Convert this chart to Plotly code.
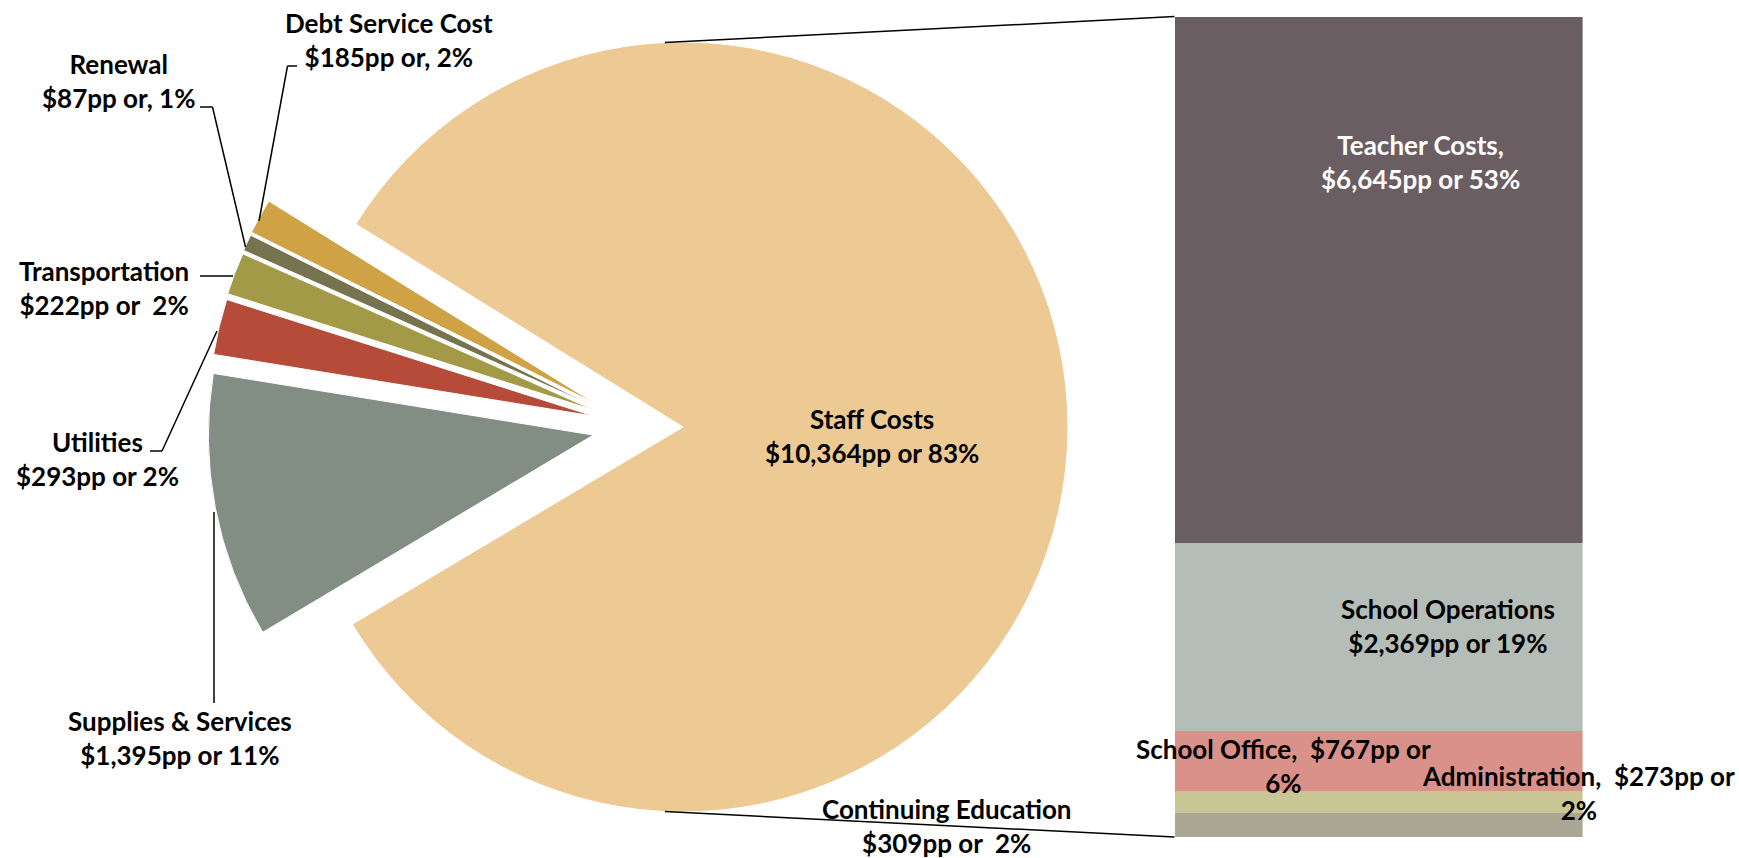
import math
import plotly.graph_objects as go

W, H = 1739, 858

# ---------------- data ----------------
pie_labels = ["Staff Costs", "Supplies & Services", "Utilities",
              "Transportation", "Renewal", "Debt Service Cost"]
pie_values = [10364, 1395, 293, 222, 87, 185]
pie_text = ["Staff Costs<br>$10,364pp or 83%",
            "Supplies & Services<br>$1,395pp or 11%",
            "Utilities<br>$293pp or 2%",
            "Transportation<br>$222pp or  2%",
            "Renewal<br>$87pp or, 1%",
            "Debt Service Cost<br>$185pp or, 2%"]

# breakdown of Staff Costs (bottom to top of the stacked bar)
bar_labels = ["Continuing Education", "Administration", "School Office",
              "School Operations", "Teacher Costs"]
bar_values = [309, 273, 767, 2369, 6645]
bar_text = ["Continuing Education<br>$309pp or  2%",
            "Administration,  $273pp or<br>2%",
            "School Office,  $767pp or<br>6%",
            "School Operations<br>$2,369pp or 19%",
            "Teacher Costs,<br>$6,645pp or 53%"]

# ---------------- style / layout ----------------
pie_colors = ["#EDC993", "#828E84", "#B54B38", "#A29A47", "#76744F", "#CFA245"]
bar_colors = ["#AAA894", "#CAC594", "#DA918A", "#B4BDB8", "#6A5E63"]
bar_font_colors = ["black", "black", "black", "black", "white"]

PIE_CX, PIE_CY, PIE_R = 683, 427, 385     # pixels
ROTATION = -58.2                           # start of first slice, deg clockwise from 12 o'clock
EXPLODE = 90                               # pixels the small slices are pulled out
BAR_X0, BAR_X1, BAR_TOP, BAR_BOT = 1174.5, 1582.6, 16.6, 837

FONT = dict(family="Lato, Open Sans, sans-serif", size=26, color="black", weight=700)

pie_label_pos = [(872, 436), (180, 738), (97, 459), (104, 288), (118, 81), (389, 40)]
bar_label_pos = [(947, 826), (1578, 793), (1283, 766), (1448, 626), (1420, 162)]

leaders = [
    [(214, 703), (214, 512)],                    # Supplies
    [(150, 451), (162, 451), (217, 331)],        # Utilities
    [(200, 276), (233, 276)],                    # Transportation
    [(200, 107), (212.5, 107), (245.5, 247)],    # Renewal
    [(297, 66), (287.5, 66), (259, 221)],        # Debt
]


def px(x):
    return x / W


def py(y):
    return 1 - y / H


def clip(v):
    return min(1.0, max(0.0, v))


fig = go.Figure()

# ---- pie: one trace per visible slice so each can be exploded independently ----
total = sum(pie_values)
start = 90 - ROTATION
mids = []
acc = 0
for v in pie_values:
    a0 = start - acc * 360 / total
    a1 = start - (acc + v) * 360 / total
    mids.append((a0 + a1) / 2)
    acc += v
small_total = sum(pie_values[1:])
group_dir = start - (pie_values[0] + small_total / 2) * 360 / total + 360

for i in range(len(pie_values)):
    if i == 0:
        cx, cy = PIE_CX, PIE_CY
    else:
        m = mids[i] % 360
        d = math.radians((m + group_dir) / 2)
        cx = PIE_CX + EXPLODE * math.cos(d)
        cy = PIE_CY - EXPLODE * math.sin(d)
    colors = [pie_colors[j] if j == i else "rgba(0,0,0,0)" for j in range(len(pie_values))]
    widths = [1 if j == i else 0 for j in range(len(pie_values))]
    fig.add_trace(go.Pie(
        labels=pie_labels, values=pie_values, sort=False,
        direction="clockwise", rotation=ROTATION,
        marker=dict(colors=colors, line=dict(color="white", width=widths)),
        textinfo="none", hoverinfo="label+value", showlegend=False,
        domain=dict(x=[clip(px(cx - PIE_R)), clip(px(cx + PIE_R))],
                    y=[clip(py(cy + PIE_R)), clip(py(cy - PIE_R))]),
    ))

# ---- stacked bar ----
for i in range(len(bar_values)):
    fig.add_trace(go.Bar(
        x=[0], y=[bar_values[i]], width=1, name=bar_labels[i],
        marker=dict(color=bar_colors[i], line=dict(width=0)),
        showlegend=False, hoverinfo="name+y",
    ))

# ---- labels ----
annotations = []
for t, (x, y) in zip(pie_text, pie_label_pos):
    annotations.append(dict(text=t, x=px(x), y=py(y), xref="paper", yref="paper",
                            showarrow=False, xanchor="center", yanchor="middle",
                            align="center", font=FONT))
for t, (x, y), c in zip(bar_text, bar_label_pos, bar_font_colors):
    f = dict(FONT)
    f["color"] = c
    annotations.append(dict(text=t, x=px(x), y=py(y), xref="paper", yref="paper",
                            showarrow=False, xanchor="center", yanchor="middle",
                            align="center", font=f))

# ---- leader lines and connector lines ----
shapes = []
line_style = dict(color="black", width=1.5)
for pts in leaders:
    for (x0, y0), (x1, y1) in zip(pts[:-1], pts[1:]):
        shapes.append(dict(type="line", xref="paper", yref="paper",
                           x0=px(x0), y0=py(y0), x1=px(x1), y1=py(y1), line=line_style))

ang = math.radians(92.7)
top_pt = (PIE_CX + PIE_R * math.cos(ang), PIE_CY - PIE_R * math.sin(ang))
bot_pt = (PIE_CX + PIE_R * math.cos(ang), PIE_CY + PIE_R * math.sin(ang))
shapes.append(dict(type="line", xref="paper", yref="paper",
                   x0=px(top_pt[0]), y0=py(top_pt[1]), x1=px(BAR_X0), y1=py(BAR_TOP),
                   line=line_style))
shapes.append(dict(type="line", xref="paper", yref="paper",
                   x0=px(bot_pt[0]), y0=py(bot_pt[1]), x1=px(BAR_X0), y1=py(BAR_BOT),
                   line=line_style))

fig.update_layout(
    width=W, height=H, autosize=False,
    margin=dict(l=0, r=0, t=0, b=0),
    paper_bgcolor="white", plot_bgcolor="white",
    barmode="stack", bargap=0,
    xaxis=dict(domain=[px(BAR_X0), px(BAR_X1)], range=[-0.5, 0.5], visible=False, fixedrange=True),
    yaxis=dict(domain=[py(BAR_BOT), py(BAR_TOP)], range=[0, sum(bar_values)], visible=False, fixedrange=True),
    annotations=annotations,
    shapes=shapes,
    showlegend=False,
)

fig.write_html("out.html")
